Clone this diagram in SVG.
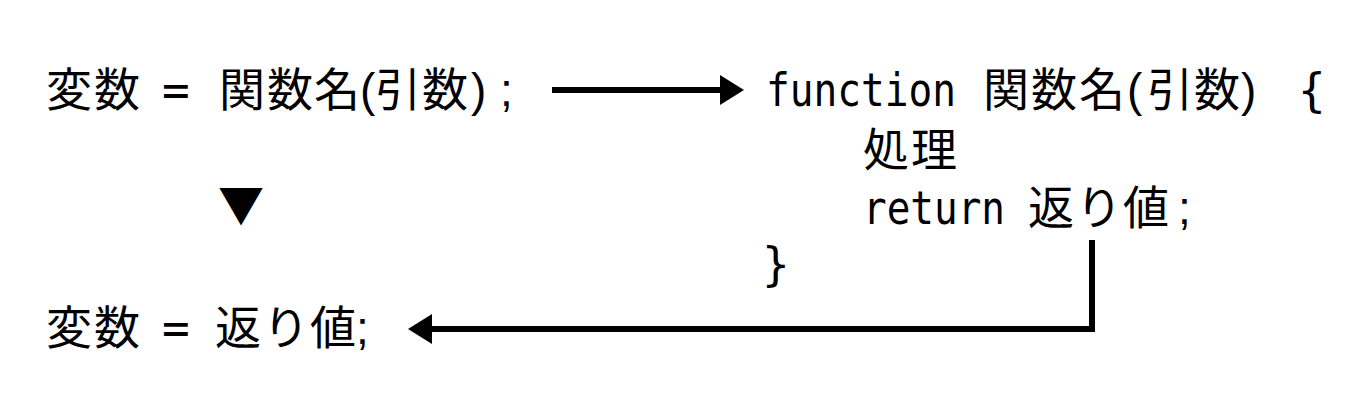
<svg xmlns="http://www.w3.org/2000/svg" width="1368" height="420" viewBox="0 0 1368 420">
<style>
.j{font-family:"Noto Sans CJK JP","Noto Sans CJK SC",sans-serif;font-size:46px;fill:#000}
.m{font-family:"DejaVu Sans Mono","Liberation Mono","Noto Sans CJK JP",monospace}
.p{font-family:"Liberation Sans","Noto Sans CJK JP",sans-serif}
.ln{stroke:#000;stroke-width:6;fill:none}
</style>
<rect width="1368" height="420" fill="#fff"/>
<g id="call">
<text class="j" y="106"><tspan x="46 94">変数</tspan><tspan class="m" x="162">=</tspan><tspan x="219 267 314">関数名</tspan><tspan class="p" x="360">(</tspan><tspan x="375 422">引数</tspan><tspan class="p" x="471">)</tspan><tspan class="p" x="500">;</tspan></text>
</g>
<g id="definition">
<text class="j" y="106"><tspan class="m" x="766" textLength="190" lengthAdjust="spacingAndGlyphs">function</tspan><tspan x="983 1031 1079">関数名</tspan><tspan class="p" x="1127">(</tspan><tspan x="1147 1194">引数</tspan><tspan class="p" x="1241">)</tspan><tspan class="m" x="1298">{</tspan></text>
<text class="j" x="863 911" y="166">処理</text>
<text class="j" y="224"><tspan class="m" x="863" textLength="142" lengthAdjust="spacingAndGlyphs">return</tspan><tspan x="1028 1076 1123">返り値</tspan><tspan class="p" x="1178">;</tspan></text>
<text class="j m" x="762" y="280">}</text>
</g>
<g id="marker-down">
<text class="j" x="218" y="222">▼</text>
</g>
<g id="result">
<text class="j" y="344"><tspan x="46 94">変数</tspan><tspan class="m" x="162">=</tspan><tspan x="215 263 310">返り値</tspan><tspan class="p" x="356">;</tspan></text>
</g>
<g id="connectors">
<line class="ln" x1="552" y1="90" x2="722" y2="90"/>
<polygon points="720,75 744,90 720,105" fill="#000"/>
<polyline class="ln" points="1092,240 1092,329 430,329"/>
<polygon points="432,314 408,329 432,344" fill="#000"/>
</g>
</svg>
